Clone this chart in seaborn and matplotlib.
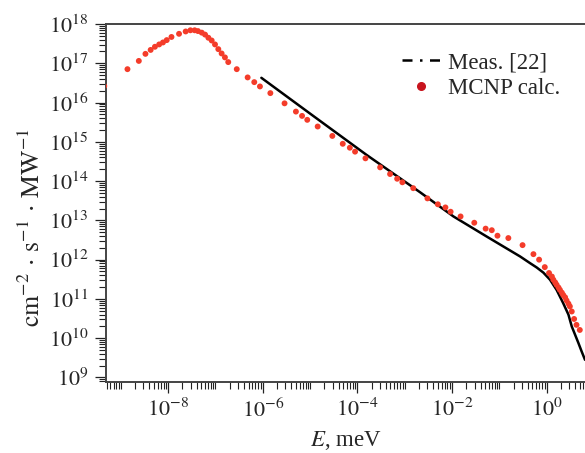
import numpy as np
import pandas as pd
import matplotlib
matplotlib.use("Agg")
import matplotlib.pyplot as plt
from matplotlib.lines import Line2D
from matplotlib.ticker import FixedLocator, FuncFormatter, NullFormatter
import seaborn as sns

# ---- data (log10 values) ----
mcnp_logE = [-9.35, -8.86, -8.62, -8.48, -8.37, -8.28, -8.19, -8.11, -8.03, -7.93,
             -7.77, -7.63, -7.53, -7.44, -7.37, -7.29, -7.22, -7.15, -7.08, -7.01,
             -6.94, -6.87, -6.80, -6.73, -6.55, -6.32, -6.18, -6.06, -5.84, -5.54,
             -5.30, -5.17, -5.06, -4.84, -4.53, -4.31, -4.16, -4.05, -3.83, -3.52,
             -3.31, -3.16, -3.05, -2.82, -2.52, -2.30, -2.14, -2.03, -1.82, -1.53,
             -1.29, -1.16, -1.04, -0.81, -0.51, -0.28, -0.16, -0.04, 0.05, 0.11,
             0.14, 0.18, 0.21, 0.25, 0.28, 0.32, 0.35, 0.39, 0.42, 0.46,
             0.49, 0.53, 0.58, 0.63, 0.70]
mcnp_logF = [16.42, 16.85, 17.06, 17.24, 17.34, 17.42, 17.48, 17.53, 17.59, 17.67,
             17.75, 17.81, 17.84, 17.84, 17.82, 17.78, 17.73, 17.65, 17.58, 17.48,
             17.36, 17.25, 17.15, 17.03, 16.85, 16.64, 16.52, 16.41, 16.24, 15.98,
             15.77, 15.66, 15.56, 15.39, 15.15, 14.95, 14.85, 14.75, 14.58, 14.35,
             14.18, 14.06, 13.97, 13.82, 13.56, 13.41, 13.33, 13.22, 13.10, 12.94,
             12.79, 12.75, 12.61, 12.55, 12.37, 12.14, 12.00, 11.81, 11.66, 11.57,
             11.49, 11.42, 11.36, 11.29, 11.23, 11.16, 11.10, 11.04, 10.96, 10.88,
             10.81, 10.68, 10.49, 10.34, 10.21]

meas_logE = [-6.03, -4.90, -3.81, -2.68, -1.97, -1.27, -0.56, -0.35, -0.21, -0.07,
             0.07, 0.21, 0.28, 0.35, 0.46, 0.53, 0.60, 0.67, 0.74, 0.81]
meas_logF = [16.63, 15.63, 14.67, 13.72, 13.10, 12.59, 12.08, 11.91, 11.80, 11.67,
             11.49, 11.23, 11.06, 10.89, 10.60, 10.30, 10.09, 9.88, 9.66, 9.45]

x_tick_exps = [-8, -6, -4, -2, 0]
y_tick_exps = [9, 10, 11, 12, 13, 14, 15, 16, 17, 18]
legend_labels = ["Meas. [22]", "MCNP calc."]

mcnp = pd.DataFrame({"E": np.power(10.0, mcnp_logE), "F": np.power(10.0, mcnp_logF)})
meas = pd.DataFrame({"E": np.power(10.0, meas_logE), "F": np.power(10.0, meas_logF)})

# ---- style ----
sns.set_style("ticks")
plt.rcParams["font.family"] = ["Liberation Serif", "DejaVu Serif"]
plt.rcParams["mathtext.fontset"] = "stix"

W, H = 585, 453
fig = plt.figure(figsize=(W / 100, H / 100), dpi=100)
ax = fig.add_axes([105.7 / W, 1 - 382 / H, (585 - 105.7) / W, (382 - 24) / H])

sns.lineplot(data=meas, x="E", y="F", ax=ax, color="black", lw=1.8,
             legend=False, sort=True, estimator=None)
sns.scatterplot(data=mcnp, x="E", y="F", ax=ax, color="#f43c2a", s=18,
                edgecolor="none", legend=False, zorder=3)

ax.set_xscale("log")
ax.set_yscale("log")
ax.set_xlim(10 ** -9.32, 10 ** 0.81)
ax.set_ylim(10 ** 8.885, 1e18)

ax.xaxis.set_major_locator(FixedLocator([10.0 ** e for e in x_tick_exps]))
ax.yaxis.set_major_locator(FixedLocator([10.0 ** e for e in y_tick_exps]))
fmt = FuncFormatter(lambda v, pos: r"$10^{%d}$" % int(round(np.log10(v))))
ax.xaxis.set_major_formatter(fmt)
ax.yaxis.set_major_formatter(fmt)

x_minor = [m * 10.0 ** d for d in range(-10, 1) for m in range(1, 10)
           if not (m == 1 and d in x_tick_exps)]
y_minor = [m * 10.0 ** d for d in range(8, 18) for m in range(2, 10)]
ax.xaxis.set_minor_locator(FixedLocator(x_minor))
ax.yaxis.set_minor_locator(FixedLocator(y_minor))
ax.xaxis.set_minor_formatter(NullFormatter())
ax.yaxis.set_minor_formatter(NullFormatter())

ax.tick_params(which="major", length=8, width=0.9, color="#222222",
               labelsize=16, direction="out")
ax.tick_params(axis="y", which="major", pad=4.5)
ax.tick_params(axis="x", which="major", pad=4)
ax.tick_params(which="minor", length=5, width=0.8, color="#222222", direction="out")

for s in ["left", "bottom", "top"]:
    ax.spines[s].set_linewidth(1.4)
    ax.spines[s].set_color("#444444")
ax.spines["right"].set_visible(False)

ax.set_xlabel("$E$, meV", fontsize=16.5, labelpad=5)
ax.set_ylabel(r"$\mathrm{cm}^{-2}\,\cdot\,\mathrm{s}^{-1}\,\cdot\,\mathrm{MW}^{-1}$",
              fontsize=18.5)
ax.yaxis.set_label_coords(-0.127, 0.43)

handles = [
    Line2D([], [], color="black", lw=1.8, linestyle=(0, (4, 3, 1, 3))),
    Line2D([], [], color="#c8141e", marker="o", linestyle="none", markersize=5.5),
]
ax.legend(handles, legend_labels, loc="upper left",
          bbox_to_anchor=(402 / W, 1 - 52 / H), bbox_transform=fig.transFigure,
          frameon=False, fontsize=16.5, handlelength=1.65, handletextpad=0.35,
          labelspacing=0.2, borderpad=0, borderaxespad=0)

fig.savefig("out.png", dpi=100)
